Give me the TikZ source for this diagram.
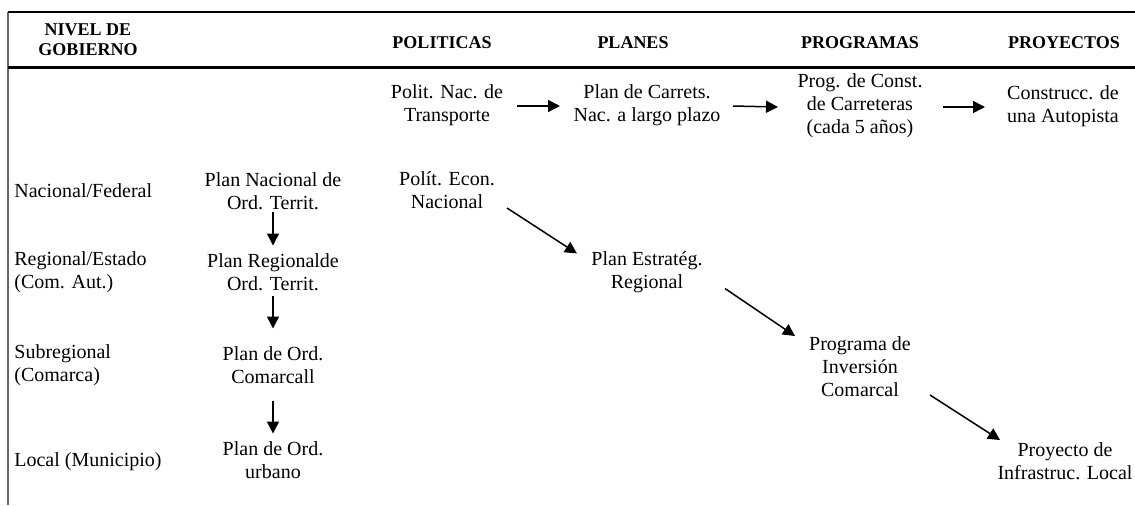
\documentclass[tikz,border=0pt]{standalone}
\usepackage{fontspec}
\setmainfont{Liberation Serif}
\usetikzlibrary{arrows.meta}
\tikzset{
  lbl/.style={align=center,inner sep=0pt,font=\fontsize{10}{11.5}\selectfont},
  lvl/.style={lbl,anchor=west,align=left},
  hdr/.style={lbl,font=\fontsize{9}{10}\selectfont\bfseries},
  arr/.style={-{Triangle[length=6pt,width=6pt]},line width=0.75pt},
}
\begin{document}
\begin{tikzpicture}[x=0.5pt,y=-0.5pt]
	\useasboundingbox (0,0) rectangle (1135,505);
	
	% marco de la tabla
	\draw[black!60,line width=0.75pt] (8,12) -- (8,505);
	\draw[line width=1pt] (7.5,12) -- (1135,12);
	\draw[line width=1.5pt] (7.5,67) -- (1135,67);
	
	% cabeceras
	\node[hdr] (hniv) at (88,40) {NIVEL DE\\GOBIERNO};
	\node[hdr] (hpol) at (442,43) {POLITICAS};
	\node[hdr] (hpla) at (633,43) {PLANES};
	\node[hdr] (hprg) at (860,43) {PROGRAMAS};
	\node[hdr] (hpry) at (1064,43) {PROYECTOS};
	
	% niveles de gobierno
	\node[lvl] (nnac) at (14,191) {Nacional/Federal};
	\node[lvl] (nreg) at (14,272.5) {Regional/Estado\\(Com. Aut.)};
	\node[lvl] (nsub) at (14,365.5) {Subregional\\(Comarca)};
	\node[lvl] (nloc) at (14,462) {Local (Municipio)};
	
	% ordenacion del territorio
	\node[lbl] (pnt) at (273,191) {Plan Nacional de\\Ord. Territ.};
	\node[lbl] (prt) at (273,272.5) {Plan Regionalde\\Ord. Territ.};
	\node[lbl] (pco) at (273,365.5) {Plan de Ord.\\Comarcall};
	\node[lbl] (pou) at (273,460.5) {Plan de Ord.\\urbano};
	
	% cadena del transporte
	\node[lbl] (pol1) at (447,105) {Polit. Nac. de\\Transporte};
	\node[lbl] (pla1) at (647,105) {Plan de Carrets.\\Nac. a largo plazo};
	\node[lbl] (prg1) at (860,106) {Prog. de Const.\\de Carreteras\\(cada 5 años)};
	\node[lbl] (pry1) at (1063,106) {Construcc. de\\una Autopista};
	
	% cadena economica
	\node[lbl] (pen) at (447,190) {Polít. Econ.\\Nacional};
	\node[lbl] (ple) at (647,272.5) {Plan Estratég.\\Regional};
	\node[lbl] (pic) at (860,367) {Programa de\\Inversión\\Comarcal};
	\node[lbl] (pil) at (1065,461) {Proyecto de\\Infrastruc. Local};
	
	\foreach \a/\b/\s/\e in {pol1/pla1/70/-87, pla1/prg1/86/-82, prg1/pry1/83/-78} {
		\draw[arr] ([shift={(\s,1)}]\a.center) -- ([shift={(\e,1)}]\b.center);
	}
	
	\foreach \a/\b/\s/\e in {pnt/prt/21/-27, prt/pco/23/-37, pco/pou/35/-27} {
		\draw[arr] ([shift={(0,\s)}]\a.center) -- ([shift={(0,\e)}]\b.center);
	}
	
	\foreach \a/\b/\sx/\sy/\ex/\ey in {pen/ple/60/18/-70/-19, ple/pic/78/16/-65/-31, pic/pil/70/28/-65/-21} {
		\draw[arr] ([shift={(\sx,\sy)}]\a.center) -- ([shift={(\ex,\ey)}]\b.center);
	}
\end{tikzpicture}
\end{document}
